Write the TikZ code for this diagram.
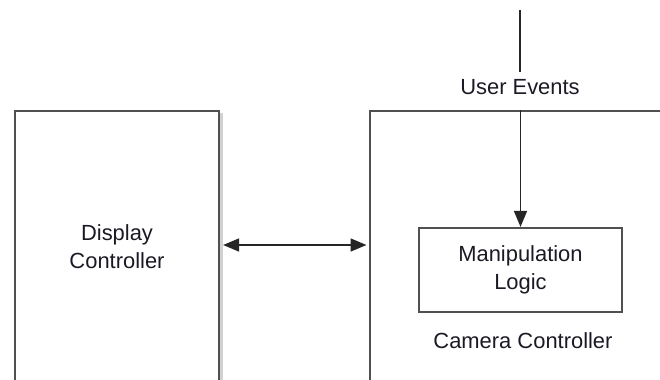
\documentclass[tikz,border=0pt]{standalone}
\usepackage{fontspec}
\setmainfont{Liberation Sans}
\usetikzlibrary{arrows.meta}
\definecolor{edge}{HTML}{505050}
\definecolor{ink}{HTML}{1A1A24}
\tikzset{
  frame/.style={draw=edge, line width=2.2bp, fill=white, inner sep=0pt},
  lbl/.style={text=ink, font=\fontsize{22}{28}\selectfont, align=center, inner sep=1bp},
  conn/.style={draw=black!85, line width=1.6bp},
  tip/.style={-{Triangle[length=16bp,width=13bp]}}
}
\begin{document}
\begin{tikzpicture}[x=1bp,y=-1bp]
  \useasboundingbox (0,0) rectangle (660,379);
  \clip (0,0) rectangle (660,379);
  % soft edge to the right of the display box
  \fill[black!18] (220,113) rectangle (222.5,400);
  % display controller
  \node[frame, lbl, minimum width=204bp, minimum height=272bp] (display) at (117,247)
    {Display\\Controller};
  % camera controller frame (runs off the page)
  \node[frame, minimum width=340bp, minimum height=300bp, anchor=north west] (camera) at (369,110) {};
  \node[lbl] (camlabel) at (523,341) {Camera Controller};
  % manipulation logic
  \node[frame, lbl, minimum width=203bp, minimum height=84bp] (manip) at (520.5,270)
    {Manipulation\\Logic};
  % user events input
  \coordinate (uetop) at (520,10);
  \node[lbl] (ue) at (520,87) {User Events};
  \draw[conn] (uetop) -- ([yshift=6bp]ue.north);
  \draw[conn, tip] (manip.north |- camera.north) -- (manip.north);
  % link between the two controllers
  \draw[conn, {Triangle[length=16bp,width=13bp]}-{Triangle[length=16bp,width=13bp]},
        shorten <=3bp, shorten >=2.5bp]
    (display.east |- 0,245) -- (camera.west |- 0,245);
\end{tikzpicture}
\end{document}
